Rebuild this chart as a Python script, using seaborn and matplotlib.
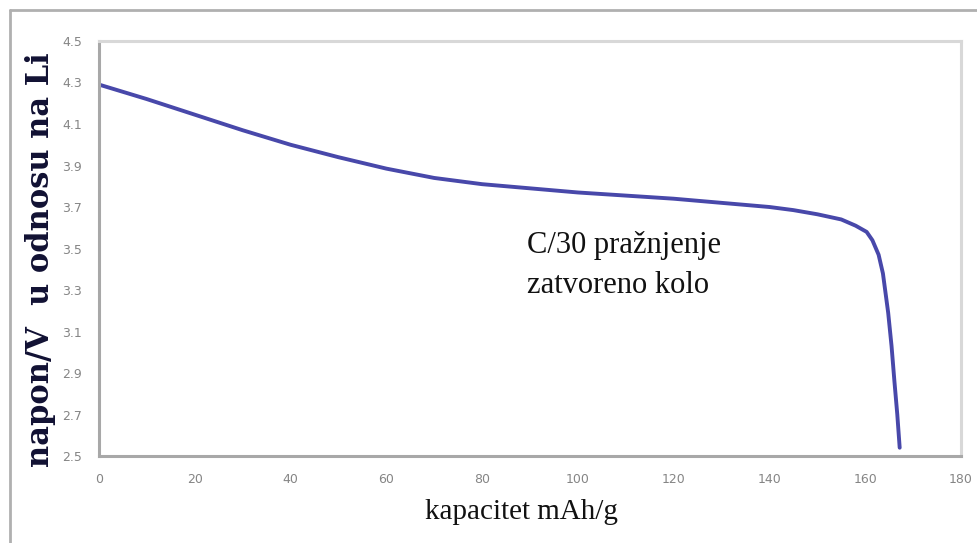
import matplotlib
matplotlib.use("Agg")
import matplotlib.pyplot as plt
import seaborn as sns
import pandas as pd
from matplotlib.lines import Line2D

capacity = [0, 10, 20, 30, 40, 50, 60, 70, 80, 90, 100, 110, 120, 130, 140, 145,
            150, 155, 158, 160.3, 161.5, 162.8, 163.7, 164.8, 165.5, 166.1, 166.7, 167.2]
voltage = [4.29, 4.22, 4.145, 4.07, 4.0, 3.94, 3.885, 3.84, 3.81, 3.79, 3.77, 3.755,
           3.74, 3.72, 3.70, 3.685, 3.665, 3.64, 3.61, 3.58, 3.54, 3.47, 3.38, 3.19,
           3.03, 2.86, 2.70, 2.54]
x_ticks = [0, 20, 40, 60, 80, 100, 120, 140, 160, 180]
y_ticks = [2.5, 2.7, 2.9, 3.1, 3.3, 3.5, 3.7, 3.9, 4.1, 4.3, 4.5]

sns.set_style("white")
df = pd.DataFrame({"cap": capacity, "v": voltage})

fig = plt.figure(figsize=(9.78, 5.43), dpi=100)
ax = fig.add_axes([0.1012, 0.1602, 0.9826 - 0.1012, 0.9245 - 0.1602])
sns.lineplot(data=df, x="cap", y="v", sort=False, color="#4848aa", linewidth=2.8, ax=ax)

ax.set_xlim(0, 180)
ax.set_ylim(2.5, 4.5)
ax.set_xticks(x_ticks)
ax.set_yticks(y_ticks)
ax.set_xticklabels([str(t) for t in x_ticks])
ax.set_yticklabels([f"{t:.1f}" for t in y_ticks])
ax.tick_params(axis="both", which="both", direction="out", length=4, width=1,
               color="#999999", labelcolor="#858585", labelsize=9, pad=8)
ax.grid(False)
for s in ["left", "bottom"]:
    ax.spines[s].set_color("#a8a8a8")
    ax.spines[s].set_linewidth(2.2)
for s in ["top", "right"]:
    ax.spines[s].set_color("#d8d8d8")
    ax.spines[s].set_linewidth(2.2)

ax.set_xlabel("kapacitet mAh/g", fontfamily="Liberation Serif", fontsize=21,
              color="#111111")
ax.xaxis.label.set_va("center")
ax.xaxis.set_label_coords(0.49, -0.135)

ax.set_ylabel("napon/V  u odnosu na Li", fontfamily="DejaVu Serif", fontsize=22,
              fontweight="bold", color="#111133")
ax.yaxis.label.set_va("center")
ax.yaxis.set_label_coords(-0.0684, 0.472)

for txt, yy in [("C/30 pražnjenje", 0.508), ("zatvoreno kolo", 0.412)]:
    ax.text(0.4965, yy, txt, transform=ax.transAxes, ha="left", va="center",
            fontfamily="Liberation Serif", fontsize=22, color="#111111")

fig.add_artist(Line2D([10 / 978, 1.0], [1 - 10 / 543, 1 - 10 / 543],
                      transform=fig.transFigure, color="#b0b0b0", linewidth=2))
fig.add_artist(Line2D([10 / 978, 10 / 978], [0, 1 - 10 / 543],
                      transform=fig.transFigure, color="#b0b0b0", linewidth=2))

fig.savefig("out.png", dpi=100)
